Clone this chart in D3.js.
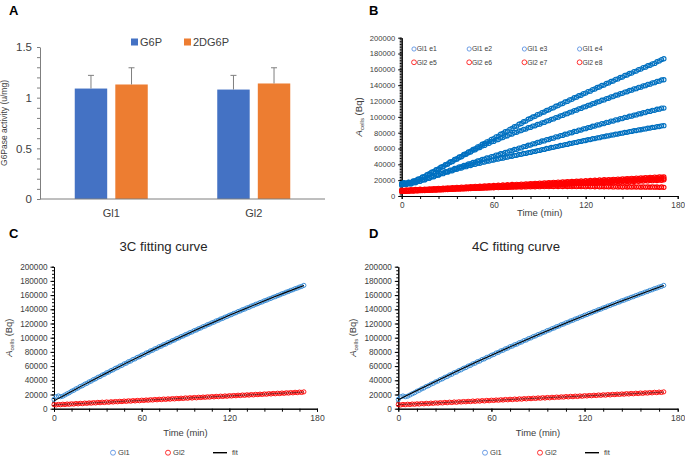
<!DOCTYPE html>
<html><head><meta charset="utf-8">
<script src="https://cdn.jsdelivr.net/npm/d3@7"></script>
<style>body{margin:0;background:#fff} svg{display:block;font-family:"Liberation Sans",Arial,sans-serif}</style>
</head><body>
<svg id="c" width="685" height="456"></svg>
<script>
// ---------- Panel A data ----------
const catsA = ["Gl1", "Gl2"];
const seriesA = ["G6P", "2DG6P"];
const g6p = [1.09, 1.08];
const dg6p = [1.13, 1.14];
const g6pErr = [0.13, 0.14];
const dg6pErr = [0.165, 0.155];
const ticksA = [0, 0.5, 1, 1.5];

// ---------- Time-course data (min) ----------
const times = [0,1.5,3,4.5,6,7.5,9,10.5,12,13.5,
  15,16.5,18,19.5,21,22.5,24,25.5,27,28.5,
  30,31.5,33,34.5,36,37.5,39,40.5,42,43.5,
  45,46.5,48,49.5,51,52.5,54,55.5,57,58.5,
  60,61.5,63,64.5,66,67.5,69,70.5,72,73.5,
  75,76.5,78,79.5,81,82.5,84,85.5,87,88.5,
  90,91.5,93,94.5,96,97.5,99,100.5,102,103.5,
  105,106.5,108,109.5,111,112.5,114,115.5,117,118.5,
  120,121.5,123,124.5,126,127.5,129,130.5,132,133.5,
  135,136.5,138,139.5,141,142.5,144,145.5,147,148.5,
  150,151.5,153,154.5,156,157.5,159,160.5,162,163.5,
  165,166.5,168,169.5,171];
const timeTicks = [0, 60, 120, 180];
const countTicks = [0,20000,40000,60000,80000,100000,120000,140000,160000,180000,200000];

const gl1e1 = [16000,16900,16300,17500,17200,19000,19500,21400,22000,24100,
  24700,27000,28100,30200,31000,33400,34300,36500,37300,39700,
  40600,43000,43800,46200,47100,49300,50100,52500,53500,55700,
  56600,59000,59900,62100,63000,65400,66300,68500,69400,71600,
  72500,74800,75700,78100,79000,81200,82000,84300,85300,87500,
  88400,90700,91600,93800,94700,97000,97900,99900,100700,102800,
  103500,105400,106100,108100,108900,110800,111400,113400,114200,116100,
  116800,118800,119500,121400,122100,124100,124800,126700,127300,129300,
  130000,131900,132500,134500,135200,137100,137700,139600,140200,142200,
  142800,144700,145300,147300,147900,149800,150300,152300,152900,154800,
  155300,157200,157800,159700,160300,162200,162700,164600,165200,166900,
  167500,169600,170700,172400,173400];
const gl1e2 = [15200,16400,15900,17100,16900,18600,19000,20900,21500,23500,
  24200,26500,27500,29800,30600,32900,33800,36000,37000,39200,
  40200,42400,43400,45600,46500,48600,49600,51800,52700,54800,
  55600,57800,58400,60500,61200,63300,63900,65900,66500,68500,
  69000,70900,71400,73300,73800,75600,76100,77900,78300,80100,
  80500,82200,82600,84200,84600,86300,86600,88300,88700,90400,
  90800,92500,93000,94700,95200,96900,97400,99100,99600,101300,
  101800,103500,104000,105700,106200,107900,108400,110100,110600,112300,
  112800,114500,115000,116700,117200,118800,119300,121000,121400,123100,
  123500,125200,125600,127300,127700,129300,129700,131300,131700,133300,
  133700,135300,135600,137200,137500,139100,139400,141000,141300,142900,
  143200,144800,145100,146600,146900];
const gl1e3 = [14300,15200,14800,15900,15600,17000,17000,18600,18800,20400,
  20700,22500,22800,24600,24900,26700,27000,28800,29100,30800,
  31100,32800,33100,34800,35100,36700,37000,38600,38900,40500,
  40800,42400,42700,44300,44600,46200,46400,48000,48200,49800,
  50000,51600,51800,53400,53600,55200,55400,57000,57200,58800,
  59000,60600,60800,62400,62600,64200,64400,65900,66100,67700,
  67900,69500,69600,71200,71400,72900,73100,74700,74800,76400,
  76500,78100,78200,79800,79900,81500,81600,83200,83300,84900,
  85000,86500,86600,88200,88300,89800,89900,91400,91500,93000,
  93100,94600,94700,96200,96300,97700,97800,99300,99400,100800,
  100900,102300,102400,103800,103900,105300,105400,106800,106900,108200,
  108300,109600,109700,111000,111100];
const gl1e4 = [13800,14700,14500,15600,15300,16700,16800,18300,18500,20100,
  20300,22000,22300,24000,24300,26000,26300,28000,28200,29900,
  30100,31700,31900,33500,33700,35200,35400,36900,37000,38400,
  38500,39900,40000,41300,41400,42700,42800,44000,44100,45300,
  45400,46500,46600,47700,47800,48900,49000,50100,50200,51300,
  51400,52500,52600,53700,53800,54900,55000,56100,56300,57400,
  57600,58700,58900,60000,60200,61300,61500,62500,62700,63800,
  64000,65000,65200,66300,66500,67500,67700,68700,68900,69900,
  70100,71100,71300,72300,72500,73500,73700,74700,74900,75800,
  76000,77000,77200,78100,78300,79200,79400,80300,80500,81400,
  81600,82500,82700,83500,83700,84600,84800,85600,85800,86600,
  86800,87600,87800,88600,88800];
const gl2e5 = [7400,6900,7700,7200,7900,7500,8200,7800,8500,8100,
  8800,8400,9100,8700,9400,9000,9700,9300,10000,9600,
  10300,9900,10600,10200,10900,10500,11200,10800,11500,11100,
  11800,11400,12100,11700,12400,12000,12700,12300,13000,12600,
  13300,12900,13600,13200,13900,13500,14200,13800,14500,14100,
  14800,14400,15100,14700,15400,15000,15700,15300,16000,15600,
  16300,15900,16600,16200,16900,16500,17200,16800,17500,17100,
  17800,17400,18100,17700,18400,18000,18700,18300,19000,18600,
  19300,18900,19600,19200,19900,19500,20200,19800,20500,20100,
  20800,20400,21100,20700,21400,21000,21700,21300,22000,21600,
  22300,21900,22600,22200,22900,22500,23200,22800,23500,23100,
  23800,23400,24100,23700,24000];
const gl2e6 = [6600,7000,6800,7300,7100,7600,7300,7900,7600,8100,
  7900,8400,8200,8700,8400,8900,8700,9200,9000,9500,
  9200,9700,9500,10000,9800,10300,10000,10500,10300,10800,
  10600,11100,10800,11300,11100,11600,11400,11900,11600,12100,
  11900,12400,12200,12700,12400,12900,12700,13200,13000,13500,
  13200,13700,13500,14000,13800,14300,14000,14500,14300,14800,
  14600,15100,14800,15300,15100,15600,15400,15900,15600,16100,
  15900,16400,16200,16700,16400,16900,16700,17200,17000,17500,
  17200,17700,17500,18000,17800,18300,18000,18500,18300,18800,
  18600,19100,18800,19300,19100,19600,19400,19900,19600,20100,
  19900,20400,20200,20700,20400,20900,20700,21200,21000,21500,
  21200,21700,21500,22000,21800];
const gl2e7 = [6200,5800,6500,6100,6700,6300,7000,6600,7200,6900,
  7500,7100,7700,7400,8000,7600,8200,7900,8500,8100,
  8700,8400,9000,8600,9200,8900,9500,9100,9700,9400,
  10000,9600,10200,9900,10500,10100,10700,10400,11000,10600,
  11200,10900,11500,11100,11700,11400,12000,11600,12200,11900,
  12500,12100,12700,12400,13000,12600,13200,12900,13500,13100,
  13700,13400,14000,13600,14200,13900,14500,14100,14700,14400,
  15000,14600,15200,14900,15500,15100,15700,15400,16000,15600,
  16200,15900,16500,16100,16700,16400,17000,16600,17200,16900,
  17500,17100,17700,17400,18000,17600,18200,17900,18500,18100,
  18700,18400,19000,18600,19200,18900,19500,19100,19700,19400,
  20000,19600,20200,19900,20400];
const gl2e8 = [5800,6100,5900,6300,6200,6600,6400,6800,6700,7000,
  6900,7300,7200,7500,7400,7800,7700,8000,7900,8300,
  8200,8500,8400,8800,8700,9000,8900,9300,9100,9500,
  9400,9700,9600,10000,9800,10200,10000,10400,10200,10600,
  10400,10800,10600,11000,10800,11200,11000,11400,11100,11500,
  11300,11700,11400,11800,11500,11900,11600,12000,11700,12100,
  11800,12200,11900,12300,11900,12300,12000,12400,12000,12400,
  12000,12400,12000,12300,11900,12300,11900,12300,11900,12200,
  11800,12200,11800,12100,11700,12100,11700,12000,11600,12000,
  11600,11900,11500,11900,11500,11800,11400,11800,11400,11700,
  11300,11700,11300,11600,11200,11600,11200,11500,11100,11500,
  11100,11400,11000,11400,11000];
const legendB = ["Gl1 e1","Gl1 e2","Gl1 e3","Gl1 e4","Gl2 e5","Gl2 e6","Gl2 e7","Gl2 e8"];

// ---------- Panels C / D data ----------
const gl1 = [13200,16800,17900,16900,17600,19300,21000,22500,24600,25900,
  27900,29200,31300,32400,34500,35700,37700,38900,41000,42100,
  44200,45300,47400,48500,50600,51600,53700,54800,56900,57900,
  60000,61000,63100,64100,66200,67100,69300,70200,72300,73200,
  75300,76300,78400,79300,81400,82300,84300,85300,87300,88200,
  90100,91000,93000,93900,95900,96800,98800,99700,101600,102500,
  104400,105300,107200,108100,110000,110900,112700,113700,115500,116400,
  118300,119200,120900,121900,123600,124600,126300,127200,128900,129900,
  131600,132500,134200,135100,136800,137700,139400,140300,141900,142800,
  144500,145400,147000,147900,149500,150400,152000,152900,154400,155400,
  156900,157800,159300,160300,161800,162700,164200,165100,166600,167500,
  169000,169900,171300,172200,173700];
const gl2 = [5700,5300,6000,5600,6300,5900,6600,6200,6900,6500,
  7300,6800,7600,7100,7900,7500,8200,7800,8500,8100,
  8900,8400,9200,8700,9500,9000,9800,9400,10100,9700,
  10400,10000,10800,10300,11100,10600,11400,10900,11700,11200,
  12000,11600,12300,11900,12600,12200,13000,12500,13300,12800,
  13600,13100,13900,13400,14200,13800,14500,14100,14800,14400,
  15200,14700,15500,15000,15800,15300,16100,15700,16400,16000,
  16700,16300,17100,16600,17400,16900,17700,17200,18000,17500,
  18300,17900,18600,18200,19000,18500,19300,18800,19600,19100,
  19900,19400,20200,19800,20500,20100,20800,20400,21200,20700,
  21500,21000,21800,21300,22100,21600,22400,22000,22700,22300,
  23100,22600,23400,22900,23700];
const fitTimes = [0,10,20,30,40,50,60,70,80,90,100,110,120,130,140,150,160,171];
const fit3Gl1 = [11000,22200,33200,44000,54500,64900,75000,85000,94700,104200,113500,122600,131500,140200,148600,156900,164900,173500];
const fit3Gl2 = [5400,6500,7500,8600,9600,10700,11700,12800,13800,14900,15900,17000,18000,19100,20100,21200,22200,23400];
const fit4Gl1 = [12500,23400,34200,44800,55200,65400,75400,85200,94800,104200,113400,122400,131200,139900,148400,156700,164800,173600];
const fit4Gl2 = [5700,6700,7700,8700,9700,10700,11700,12700,13800,14800,15900,16900,18000,19000,20100,21100,22200,23300];
const legendCD = ["Gl1", "Gl2", "fit"];

// ---------- drawing ----------
const BLUE = "#0070C0", RED = "#FF0000", TXT = "#404040";
const svg = d3.select("#c");
svg.append("rect").attr("width", 685).attr("height", 456).attr("fill", "#fff");

function panelLetter(t, x, y) {
  svg.append("text").attr("x", x).attr("y", y).attr("font-size", 13).attr("font-weight", "bold")
    .attr("fill", "#000").text(t);
}
function styleAxis(g, col) {
  g.select(".domain").attr("stroke", col);
  g.selectAll(".tick line").attr("stroke", col);
  g.selectAll(".tick text").attr("fill", TXT);
}

// ----- Panel A -----
panelLetter("A", 9, 15);
const xA = d3.scaleBand().domain(catsA).range([40, 325]);
const xAi = d3.scaleBand().domain(seriesA)
  .range([xA.bandwidth() / 2 - 36.5, xA.bandwidth() / 2 + 36.5]).paddingInner(0.2);
const yA = d3.scaleLinear().domain([0, 1.5]).range([199, 47]);
const colorsA = ["#4472C4", "#ED7D31"];
const valsA = [g6p, dg6p], errsA = [g6pErr, dg6pErr];
const gA = svg.append("g");
const ayMinor = gA.append("g").attr("transform", `translate(${xA.range()[0]},0)`)
  .call(d3.axisLeft(yA).tickValues(d3.range(0, 1.501, 0.1)).tickSize(3).tickSizeOuter(0).tickFormat(""));
styleAxis(ayMinor, "#7f7f7f");
const ayMajor = gA.append("g").attr("transform", `translate(${xA.range()[0]},0)`)
  .call(d3.axisLeft(yA).tickValues(ticksA).tickSize(0).tickPadding(8).tickFormat(d3.format("~g")));
ayMajor.select(".domain").remove();
ayMajor.selectAll("text").attr("font-size", 11.5).attr("fill", TXT).attr("font-family", "Liberation Sans, Arial");
catsA.forEach((c, i) => {
  seriesA.forEach((s, j) => {
    const v = valsA[j][i], e = errsA[j][i];
    const x0 = xA(c) + xAi(s), w = xAi.bandwidth(), cx = x0 + w / 2;
    gA.append("rect").attr("x", x0).attr("y", yA(v)).attr("width", w).attr("height", yA(0) - yA(v))
      .attr("fill", colorsA[j]);
    gA.append("line").attr("x1", cx).attr("x2", cx).attr("y1", yA(v)).attr("y2", yA(v + e))
      .attr("stroke", "#7f7f7f").attr("stroke-width", 1);
    gA.append("line").attr("x1", cx - 3).attr("x2", cx + 3).attr("y1", yA(v + e)).attr("y2", yA(v + e))
      .attr("stroke", "#7f7f7f").attr("stroke-width", 1);
  });
  gA.append("text").attr("x", xA(c) + xA.bandwidth() / 2).attr("y", 217).attr("text-anchor", "middle")
    .attr("font-size", 11).attr("fill", TXT).text(c);
});
gA.append("line").attr("x1", xA.range()[0]).attr("x2", xA.range()[1]).attr("y1", yA(0)).attr("y2", yA(0))
  .attr("stroke", "#7f7f7f");
gA.append("text").attr("transform", `translate(7,${(yA(0) + yA(1.5)) / 2}) rotate(-90)`)
  .attr("text-anchor", "middle").attr("font-size", 8.5).attr("fill", TXT).text("G6Pase activity (u/mg)");
seriesA.forEach((s, j) => {
  const lx = [131, 184][j];
  gA.append("rect").attr("x", lx).attr("y", 38.5).attr("width", 7).attr("height", 7).attr("fill", colorsA[j]);
  gA.append("text").attr("x", lx + 9).attr("y", 46).attr("font-size", 11).attr("fill", TXT).text(s);
});

// ----- generic scatter panel -----
function scatterAxes(g, x, y, o) {
  const x0 = x.range()[0], y0 = y.range()[0];
  const yMin = g.append("g").attr("transform", `translate(${x0},0)`)
    .call(d3.axisLeft(y).tickValues(d3.range(0, 200001, o.yMinor)).tickSize(2).tickSizeOuter(0).tickFormat(""));
  styleAxis(yMin, "#000");
  const yMaj = g.append("g").attr("transform", `translate(${x0},0)`)
    .call(d3.axisLeft(y).tickValues(countTicks).tickSize(3.5).tickSizeOuter(0).tickPadding(3).tickFormat(d3.format("d")));
  styleAxis(yMaj, "#000");
  yMaj.selectAll("text").attr("font-size", o.yFont).attr("font-family", "Liberation Sans, Arial");
  const xMin = g.append("g").attr("transform", `translate(0,${y0})`)
    .call(d3.axisBottom(x).tickValues(d3.range(0, 181, 12)).tickSize(3).tickSizeOuter(0).tickFormat(""));
  styleAxis(xMin, "#000");
  const xMaj = g.append("g").attr("transform", `translate(0,${y0})`)
    .call(d3.axisBottom(x).tickValues(timeTicks).tickSize(3).tickSizeOuter(0).tickPadding(3).tickFormat(d3.format("d")));
  styleAxis(xMaj, "#000");
  xMaj.selectAll("text").attr("font-size", o.xFont).attr("font-family", "Liberation Sans, Arial");
  g.append("text").attr("x", (x.range()[0] + x.range()[1]) / 2 + o.xtOff).attr("y", o.xtY).attr("text-anchor", "middle")
    .attr("font-size", o.titleFont).attr("fill", TXT).text("Time (min)");
  const yt = g.append("text").attr("transform", `translate(${o.ytX},${(y.range()[0] + y.range()[1]) / 2}) rotate(-90)`)
    .attr("text-anchor", "middle").attr("font-size", o.titleFont).attr("fill", TXT);
  yt.append("tspan").attr("font-style", "italic").text("A");
  yt.append("tspan").attr("font-size", o.titleFont * 0.62).attr("dy", 2).text("cells");
  yt.append("tspan").attr("dy", -2).text(" (Bq)");
}
function dots(g, x, y, vals, col, r, sw) {
  g.append("g").selectAll("circle").data(vals).join("circle")
    .attr("cx", (d, i) => x(times[i])).attr("cy", d => y(d)).attr("r", r)
    .attr("fill", "none").attr("stroke", col).attr("stroke-width", sw);
}

// ----- Panel B -----
panelLetter("B", 369, 15);
const xB = d3.scaleLinear().domain([0, 180]).range([401.7, 677.7]);
const yB = d3.scaleLinear().domain([0, 200000]).range([196, 37.7]);
const gB = svg.append("g");
scatterAxes(gB, xB, yB, { yMinor: 2000, yFont: 7.6, xFont: 8.2, titleFont: 9.6, xtY: 215.5, xtOff: 0, ytX: 362 });
const seriesB = [gl1e1, gl1e2, gl1e3, gl1e4, gl2e5, gl2e6, gl2e7, gl2e8];
const colsB = [BLUE, BLUE, BLUE, BLUE, RED, RED, RED, RED];
seriesB.forEach((s, k) => dots(gB, xB, yB, s, colsB[k], 2.1, 1.1));
legendB.forEach((l, k) => {
  const col = k % 4, row = Math.floor(k / 4);
  const lx = 414 + col * 55.2, ly = 49 + row * 13.3;
  gB.append("circle").attr("cx", lx).attr("cy", ly).attr("r", row ? 2.4 : 2.1).attr("fill", "none")
    .attr("stroke", row ? RED : "#4A86E0").attr("stroke-width", 0.8);
  gB.append("text").attr("x", lx + 2.8).attr("y", ly + 2.4).attr("font-size", 6.8).attr("fill", TXT).text(l);
});

// ----- Panels C and D -----
function fitPanel(letter, title, xr, fitA, fitB, lx0) {
  panelLetter(letter, letter === "C" ? 9 : 369, 238);
  const x = d3.scaleLinear().domain([0, 180]).range(xr);
  const y = d3.scaleLinear().domain([0, 200000]).range([408.7, 266.7]);
  const g = svg.append("g");
  g.append("text").attr("x", (xr[0] + xr[1]) / 2 - 22).attr("y", 251).attr("text-anchor", "middle")
    .attr("font-size", 13.2).attr("fill", "#262626").text(title);
  scatterAxes(g, x, y, { yMinor: 5000, yFont: 8.2, xFont: 8.6, titleFont: 9.4, xtY: 435.5, xtOff: 0, ytX: xr[0] - 42 });
  dots(g, x, y, gl2, RED, 2.1, 0.9);
  dots(g, x, y, gl1, "#2E86D4", 2.1, 0.9);
  const line = d3.line().x((d, i) => x(fitTimes[i])).y(d => y(d));
  g.append("path").attr("d", line(fitA)).attr("fill", "none").attr("stroke", "#000").attr("stroke-width", 1.1);
  g.append("path").attr("d", line(fitB)).attr("fill", "none").attr("stroke", "#400").attr("stroke-width", 0.9).attr("opacity", 0.7);
  // legend
  const ly = 452.7;
  [0, 1].forEach(k => {
    const cx = lx0 + k * 55;
    g.append("circle").attr("cx", cx).attr("cy", ly).attr("r", 2.5).attr("fill", "none")
      .attr("stroke", k ? RED : "#4A86E0").attr("stroke-width", 0.8);
    g.append("text").attr("x", cx + 5).attr("y", ly + 2.7).attr("font-size", 7.6).attr("fill", TXT).text(legendCD[k]);
  });
  g.append("line").attr("x1", lx0 + 100).attr("x2", lx0 + 114).attr("y1", ly).attr("y2", ly)
    .attr("stroke", "#000").attr("stroke-width", 1.4);
  g.append("text").attr("x", lx0 + 119).attr("y", ly + 2.7).attr("font-size", 7.6).attr("fill", TXT).text(legendCD[2]);
}
fitPanel("C", "3C fitting curve", [54, 317], fit3Gl1, fit3Gl2, 113);
fitPanel("D", "4C fitting curve", [398.3, 677.7], fit4Gl1, fit4Gl2, 485);
</script>
</body></html>
